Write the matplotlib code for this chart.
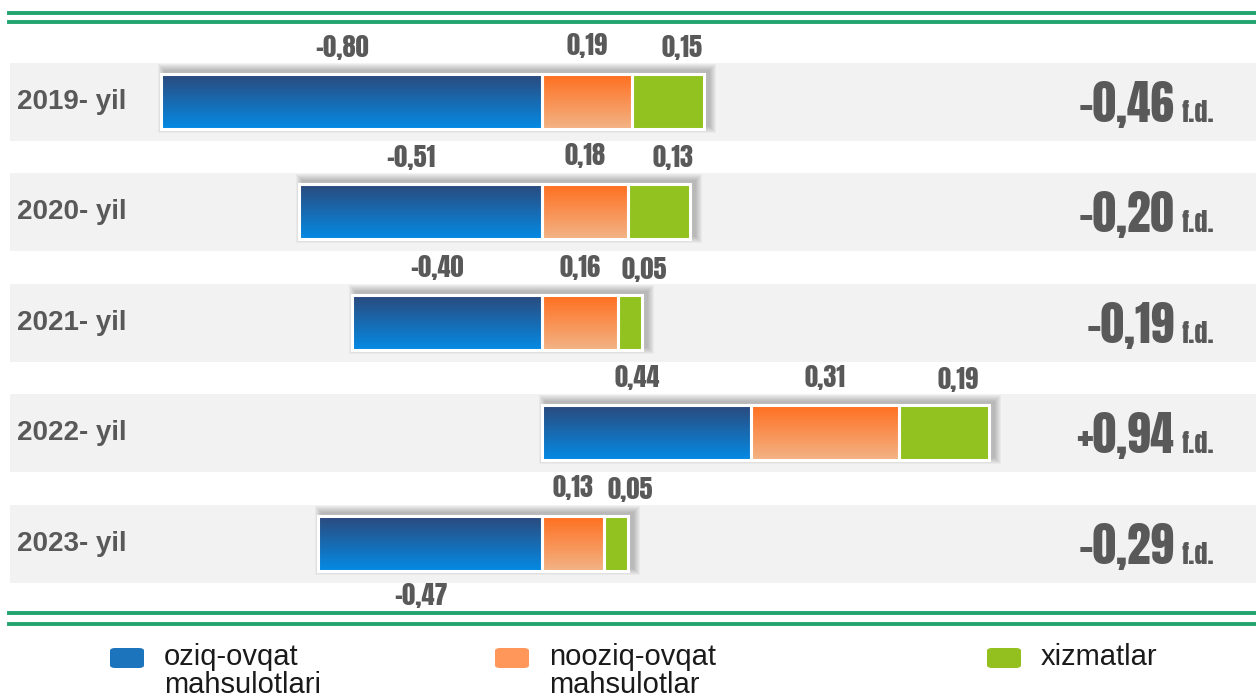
import numpy as np
import matplotlib
matplotlib.use('Agg')
import matplotlib.pyplot as plt
from matplotlib.colors import LinearSegmentedColormap
from matplotlib.patches import FancyBboxPatch, Rectangle

years = ['2019- yil', '2020- yil', '2021- yil', '2022- yil', '2023- yil']
food = [-0.80, -0.51, -0.40, 0.44, -0.47]
nonfood = [0.19, 0.18, 0.16, 0.31, 0.13]
services = [0.15, 0.13, 0.05, 0.19, 0.05]
totals = ['-0,46', '-0,20', '-0,19', '+0,94', '-0,29']
food_label_below = [False, False, False, False, True]
legend_labels = ['oziq-ovqat\nmahsulotlari', 'nooziq-ovqat\nmahsulotlar', 'xizmatlar']

W, H = 1256, 697
fig = plt.figure(figsize=(W / 100, H / 100), dpi=100)
ax = fig.add_axes([0, 0, 1, 1])
zero_px, ppu = 542, 476  # pixel of zero, pixels per unit
u = 1 / ppu

gray = '#595959'
impact = ['Anton', 'DejaVu Sans']
arial = ['Liberation Sans', 'DejaVu Sans']
line_green = '#22A46F'

row_y = [101, 211, 322, 432, 543]
bar_h = 55

# background bands
for y in row_y:
    ax.axhspan(y - 38, y + 40, xmin=10 / W, xmax=1, color='#F2F2F2', lw=0, zorder=0)

# double green rules
for y in [12.5, 22, 613, 624]:
    ax.axhline(y, xmin=9 / W, xmax=1, color=line_green, lw=2.8, zorder=1)


def grad_fill(patch, c_top, c_bot, z):
    cmap = LinearSegmentedColormap.from_list('g', [c_top, c_bot])
    x0, y0 = patch.get_x(), patch.get_y()
    w, h = patch.get_width(), patch.get_height()
    grad = np.linspace(0, 1, 64).reshape(-1, 1)
    im = ax.imshow(grad, cmap=cmap, aspect='auto', origin='upper',
                   extent=[x0, x0 + w, y0 + h, y0], zorder=z, interpolation='bilinear')
    im.set_clip_path(patch)


food = np.array(food)
nonfood = np.array(nonfood)
services = np.array(services)
start_nf = np.maximum(food, 0)
start_sv = start_nf + nonfood
left_edge = np.minimum(food, 0)
right_edge = start_sv + services

# soft shadow behind each stacked bar
for y, l, r in zip(row_y, left_edge, right_edge):
    for k in range(7):
        ax.add_patch(Rectangle((l + (3 - k) * u, y - bar_h / 2 - 4 - k),
                               (r - l) + (2 * k + 3) * u, bar_h + 2 * k + 2,
                               color='black', alpha=0.035, lw=0, zorder=2))

b_food = ax.barh(row_y, food, height=bar_h, left=0, color='#1565A8',
                 edgecolor='white', lw=2.2, zorder=3)
b_nf = ax.barh(row_y, nonfood, height=bar_h, left=start_nf, color='#F79A5C',
               edgecolor='white', lw=2.2, zorder=3)
b_sv = ax.barh(row_y, services, height=bar_h, left=start_sv, color='#92C220',
               edgecolor='white', lw=2.2, zorder=5)

for p in b_food:
    grad_fill(p, '#2C497B', '#0589E2', 4)
for p in b_nf:
    grad_fill(p, '#FF6E1E', '#F3B284', 4)
# redraw white borders above gradients
ax.barh(row_y, food, height=bar_h, left=0, fill=False, edgecolor='white', lw=2.2, zorder=6)
ax.barh(row_y, nonfood, height=bar_h, left=start_nf, fill=False, edgecolor='white', lw=2.2, zorder=6)

# value labels
lab_kw = dict(family=impact, size=19, color=gray, ha='center', va='center', zorder=7)
for i, y in enumerate(row_y):
    fy = y + 52 if food_label_below[i] else y - 54
    ax.text(food[i] / 2 - 0.02, fy, f'{food[i]:.2f}'.replace('.', ','), **lab_kw)
    ax.text(start_nf[i] + nonfood[i] / 2, y - 55, f'{nonfood[i]:.2f}'.replace('.', ','), **lab_kw)
    ax.text(start_sv[i] + services[i] / 2 + 0.03, y - 53, f'{services[i]:.2f}'.replace('.', ','), **lab_kw)

# year labels and totals
for i, y in enumerate(row_y):
    fig.text(17 / W, 1 - (y + 1) / H, years[i], family=arial,
             weight='bold', size=20, color=gray, va='center', ha='left')
    fig.text(1174 / W, 1 - (y + 21) / H, totals[i], family=impact,
             size=34, color=gray, va='baseline', ha='right')
    fig.text(1181 / W, 1 - (y + 21) / H, 'f.d.', family=impact,
             size=19, color=gray, va='baseline', ha='left')

ax.set_xlim(-zero_px / ppu, (W - zero_px) / ppu)
ax.set_ylim(H, 0)
ax.axis('off')

# legend
leg_colors = ['#1C75BC', '#FF975A', '#93C01F']
leg_x = [108, 493, 985]
for c, x, lab in zip(leg_colors, leg_x, legend_labels):
    fig.patches.append(FancyBboxPatch(((x + 2) / W, 1 - 668 / H), 34 / W, 20 / H,
                                      boxstyle='round,pad=0,rounding_size=0.004',
                                      transform=fig.transFigure, color=c, lw=0))
    fig.text((x + 56) / W, 1 - 643 / H, lab, family=arial,
             size=21, color='#1A1A1A', va='top', ha='left', linespacing=1.0)

fig.savefig('out.png', dpi=100)
